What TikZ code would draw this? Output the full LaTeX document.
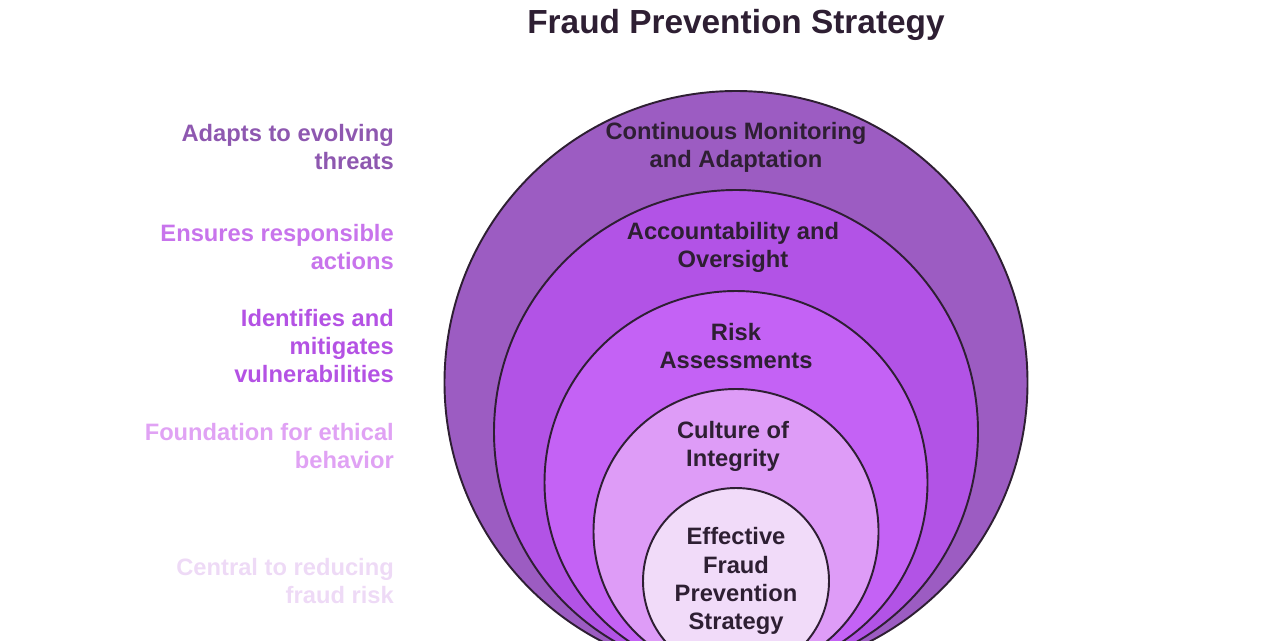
\documentclass[tikz,border=0pt]{standalone}
\usepackage{fontspec}
\setmainfont{Liberation Sans}
\definecolor{ringA}{HTML}{9C5CC2}
\definecolor{ringB}{HTML}{B253E6}
\definecolor{ringC}{HTML}{C462F5}
\definecolor{ringD}{HTML}{DE9CF7}
\definecolor{ringE}{HTML}{F1DBF9}
\definecolor{labA}{HTML}{8E58B0}
\definecolor{labB}{HTML}{C874EC}
\definecolor{labC}{HTML}{B452E4}
\definecolor{labD}{HTML}{E0A2F4}
\definecolor{labE}{HTML}{EEDAF6}
\definecolor{ink}{HTML}{2E1F33}
\begin{document}
\begin{tikzpicture}[x=0.02cm,y=-0.02cm]
    \tikzset{ring/.style={draw=ink,line width=1.1pt},
             ringtext/.style={font=\bfseries\fontsize{13.5}{16}\selectfont,text=ink,align=center},
             sidetext/.style={font=\bfseries\fontsize{13.5}{16}\selectfont,align=right,anchor=east}}
    \useasboundingbox (0,0) rectangle (1280,640);

    \node[font=\bfseries\fontsize{19}{22}\selectfont,text=ink] (title) at (736,25) {Fraud Prevention Strategy};

    \begin{scope}
    \clip (0,0) rectangle (1280,640);
    \draw[ring,fill=ringA] (736,382.5) circle (291.5);
    \draw[ring,fill=ringB] (736,432) circle (242);
    \draw[ring,fill=ringC] (736,482.5) circle (191.5);
    \draw[ring,fill=ringD] (736,531.5) circle (142.5);
    \draw[ring,fill=ringE] (736,581) circle (93);
    \end{scope}

    \node[ringtext] (monitor) at (736,147) {Continuous Monitoring\\and Adaptation};
    \node[ringtext] (account) at (733,247) {Accountability and\\Oversight};
    \node[ringtext] (risk) at (736,346) {Risk\\Assessments};
    \node[ringtext] (culture) at (733,446) {Culture of\\Integrity};
    \node[ringtext] (core) at (736,581) {Effective\\Fraud\\Prevention\\Strategy};

    \node[sidetext,text=labA] (adapt) at (400,147) {Adapts to evolving\\threats};
    \node[sidetext,text=labB] (ensure) at (400,247) {Ensures responsible\\actions};
    \node[sidetext,text=labC] (ident) at (400,346) {Identifies and\\mitigates\\vulnerabilities};
    \node[sidetext,text=labD] (found) at (400,446) {Foundation for ethical\\behavior};
    \node[sidetext,text=labE] (central) at (400,581) {Central to reducing\\fraud risk};
\end{tikzpicture}
\end{document}
